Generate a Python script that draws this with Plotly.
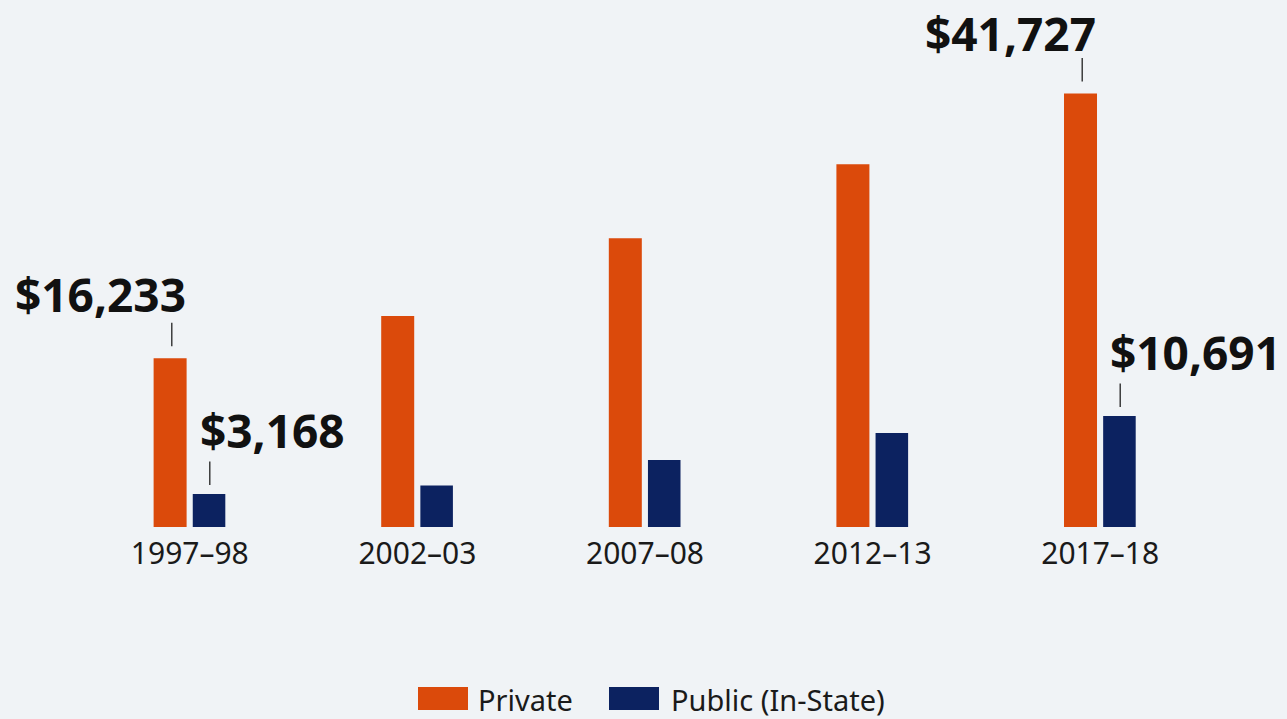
import plotly.graph_objects as go

categories = ["1997–98", "2002–03", "2007–08", "2012–13", "2017–18"]
private = [16233, 20300, 27800, 34900, 41727]
public = [3168, 4000, 6450, 9050, 10691]
series_names = ["Private", "Public (In-State)"]
colors = ["#DB4A0B", "#0C2260"]
BG = "#F0F3F6"

# labelled points: (series index, category index, label)
labels = [(0, 0, "$16,233"), (1, 0, "$3,168"), (0, 4, "$41,727"), (1, 4, "$10,691")]

W, H = 1287, 719
ML, MR, MT, MB = 76, 73, 40, 192

fig = go.Figure()
fig.add_trace(go.Bar(x=categories, y=private, name=series_names[0], marker_color=colors[0],
                     offset=-0.159, width=0.145, marker_line_width=0))
fig.add_trace(go.Bar(x=categories, y=public, name=series_names[1], marker_color=colors[1],
                     offset=0.013, width=0.143, marker_line_width=0))

series = [private, public]
for s, c, txt in labels:
    val = series[s][c]
    xs = -18 if s == 0 else 20
    gap = 12 if s == 0 else 9
    fig.add_annotation(x=categories[c], y=val, xref="x", yref="y", text="", showarrow=True,
                       arrowhead=0, arrowwidth=1.3, arrowcolor="#222222", ax=0, ay=-(gap + 25),
                       standoff=gap, xshift=xs)
    fig.add_annotation(x=categories[c], y=val, xref="x", yref="y", text=txt, showarrow=False,
                       xanchor="right" if s == 0 else "left", yanchor="middle",
                       xshift=-2 if s == 0 else 8, yshift=60 if (s == 0 and c == 4) else 64,
                       font=dict(family="Noto Sans", size=46, color="#111111", weight="bold"))

# manual legend
pw = W - ML - MR
ph = H - MT - MB
def px2x(p):
    return (p - ML) / pw
def py2y(p):
    return (H - MB - p) / ph
legend_items = [(418, 476), (609, 669)]
for i, (sx, tx) in enumerate(legend_items):
    fig.add_shape(type="rect", xref="paper", yref="paper", x0=px2x(sx), x1=px2x(sx + 50),
                  y0=py2y(710), y1=py2y(687), fillcolor=colors[i], line_width=0)
    fig.add_annotation(xref="paper", yref="paper", x=px2x(tx), y=py2y(700), text=series_names[i],
                       showarrow=False, xanchor="left", yanchor="middle",
                       font=dict(family="Noto Sans", size=29, color="#1a1a1a"))

fig.update_layout(
    width=W, height=H,
    margin=dict(l=ML, r=MR, t=MT, b=MB),
    paper_bgcolor=BG, plot_bgcolor=BG,
    barmode="overlay", showlegend=False,
    xaxis=dict(showgrid=False, showline=False, zeroline=False, ticks="",
               tickfont=dict(family="Noto Sans", size=30, color="#1a1a1a"),
               ticklabelstandoff=6, range=[-0.5, 4.5]),
    yaxis=dict(range=[0, 46870], visible=False, showgrid=False, zeroline=False),
)

fig.write_html("out.html",
               config={"displayModeBar": False},
               post_script="document.body.style.margin='0';document.body.style.overflow='hidden';"
                           "document.body.style.background='" + BG + "';")
